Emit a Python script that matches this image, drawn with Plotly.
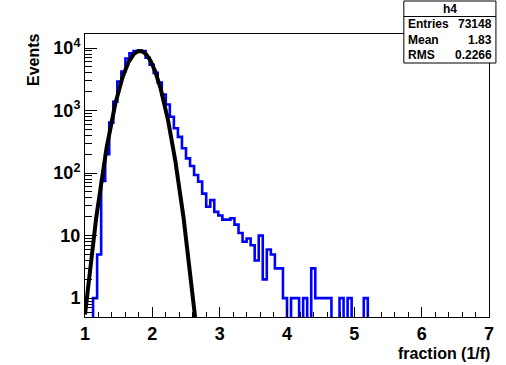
import numpy as np
import plotly.graph_objects as go

# ---------------- data ----------------
x_min, x_max, n_bins = 1.0, 7.0, 100
counts = [0, 0, 1, 5, 75, 200, 640, 1380, 2900, 4200,
          6800, 8200, 8900, 9000, 8900, 7000, 5400, 4000, 2800, 1800,
          1250, 795, 520, 380, 250, 172, 130, 93, 73, 47,
          29, 37, 24, 21, 18, 18, 19, 15, 11, 8,
          9, 7, 4, 10, 2, 6, 5, 3, 3, 1,
          0, 1, 1, 0, 1, 0, 3, 1, 1, 1,
          1, 0, 0, 1, 0, 1, 0, 0, 0, 1,
          0, 0, 0, 0, 0, 0, 0, 0, 0, 0,
          0, 0, 0, 0, 0, 0, 0, 0, 0, 0,
          0, 0, 0, 0, 0, 0, 0, 0, 0, 0]
fit_amp, fit_mean, fit_sigma = 9000.0, 1.815, 0.185
fit_range = (1.0, 2.75)
stats_name = "h4"
stats_labels = ["Entries", "Mean", "RMS"]
stats_values = ["73148", "1.83", "0.2266"]
y_tickvals = [1, 10, 100, 1000, 10000]
y_ticktext = ["1", "10", "10<sup>2</sup>", "10<sup>3</sup>", "10<sup>4</sup>"]
x_tickvals = [1, 2, 3, 4, 5, 6, 7]

# ---------------- layout geometry ----------------
W, H = 506, 365
L, R, T, B = 85, 493, 34, 317
y_lo, y_hi = np.log10(0.5), 4.224

def px(xp):
    return (xp - L) / (R - L)

def py(yp):
    return (B - yp) / (B - T)

edges = np.linspace(x_min, x_max, n_bins + 1)
c = np.array(counts, dtype=float)
c_draw = np.where(c > 0, c, 1e-3)
xs = np.concatenate([[edges[0]], edges])
ys = np.concatenate([[1e-3], c_draw, [c_draw[-1]]])

fx = np.linspace(fit_range[0], fit_range[1], 600)
fy = fit_amp * np.exp(-0.5 * ((fx - fit_mean) / fit_sigma) ** 2)

font = "Liberation Sans"
fig = go.Figure()
fig.add_trace(go.Scatter(x=xs, y=ys, mode="lines", line=dict(color="#0000ff", width=2.6, shape="hv"),
                         hoverinfo="skip"))
fig.add_trace(go.Scatter(x=fx, y=fy, mode="lines", line=dict(color="black", width=4),
                         hoverinfo="skip"))

minor_y = [m * 10 ** e for e in range(-1, 5) for m in range(2, 10)]
minor_y = [v for v in minor_y if 0.5 <= v <= 17000]

fig.update_layout(
    width=W, height=H, margin=dict(l=L, r=W - R, t=T, b=H - B),
    paper_bgcolor="white", plot_bgcolor="white", showlegend=False,
    font=dict(family=font, color="black"),
    xaxis=dict(range=[x_min, x_max], showgrid=False, zeroline=False,
               showline=True, linecolor="black", linewidth=1, mirror=True,
               ticks="inside", ticklen=10, tickwidth=1, tickcolor="black",
               tickvals=x_tickvals, ticktext=[str(v) for v in x_tickvals],
               tickfont=dict(family=font, size=18, color="black", weight="bold"),
               minor=dict(ticks="inside", ticklen=5, tickwidth=1, tickcolor="black", dtick=0.2, showgrid=False)),
    yaxis=dict(type="log", range=[y_lo, y_hi], showgrid=False, zeroline=False,
               showline=True, linecolor="black", linewidth=1, mirror=True,
               ticks="inside", ticklen=12, tickwidth=1, tickcolor="black",
               tickvals=y_tickvals, ticktext=y_ticktext,
               tickfont=dict(family=font, size=18, color="black", weight="bold"),
               minor=dict(ticks="inside", ticklen=7, tickwidth=1, tickcolor="black",
                          tickvals=minor_y, showgrid=False)),
)

# axis titles
fig.add_annotation(x=px(496), y=py(353), xref="paper", yref="paper", text="fraction (1/f)",
                   showarrow=False, xanchor="right", yanchor="middle",
                   font=dict(family=font, size=16, color="black", weight="bold"))
fig.add_annotation(x=px(33), y=py(31), xref="paper", yref="paper", text="Events", textangle=-90,
                   showarrow=False, xanchor="center", yanchor="top",
                   font=dict(family=font, size=16, color="black", weight="bold"))

# stats box
bx0, bx1, by0, by1 = 407, 500, 1, 63
fig.add_shape(type="rect", xref="paper", yref="paper", x0=px(bx0), x1=px(bx1), y0=py(by1), y1=py(by0),
              line=dict(color="black", width=1), fillcolor="white", layer="above")
row_h = (by1 - by0) / 4
fig.add_shape(type="line", xref="paper", yref="paper", x0=px(bx0), x1=px(bx1),
              y0=py(by0 + row_h), y1=py(by0 + row_h), line=dict(color="black", width=1), layer="above")
fig.add_annotation(x=px((bx0 + bx1) / 2), y=py(by0 + row_h / 2), xref="paper", yref="paper",
                   text=stats_name, showarrow=False, xanchor="center", yanchor="middle",
                   font=dict(family=font, size=12, color="black", weight="bold"))
for i, (lab, val) in enumerate(zip(stats_labels, stats_values)):
    yc = by0 + row_h * (i + 1.5)
    fig.add_annotation(x=px(bx0 + 2), y=py(yc), xref="paper", yref="paper", text=lab, showarrow=False,
                       xanchor="left", yanchor="middle",
                       font=dict(family=font, size=12, color="black", weight="bold"))
    fig.add_annotation(x=px(bx1 - 2), y=py(yc), xref="paper", yref="paper", text=val, showarrow=False,
                       xanchor="right", yanchor="middle",
                       font=dict(family=font, size=12, color="black", weight="bold"))

fig.write_html("out.html")
